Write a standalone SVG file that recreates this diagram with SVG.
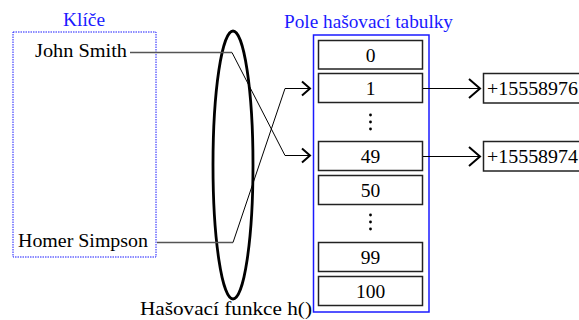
<svg xmlns="http://www.w3.org/2000/svg" width="579" height="320" viewBox="0 0 579 320" font-family="'Liberation Serif', 'DejaVu Serif', serif">
<style>
text{font-family:'Liberation Serif','Tinos','Times New Roman','DejaVu Serif',serif;font-size:19.5px;fill:#000}
.blue{fill:#1a1aff}
.cell{fill:#fff;stroke:#222;stroke-width:1.5}
.num{text-anchor:middle}
.conn{fill:none;stroke:#000;stroke-width:1}
.gray{fill:none;stroke:#555;stroke-width:1.5}
.head{fill:none;stroke:#000;stroke-width:2}
</style>
<rect width="579" height="320" fill="#fff"/>
<g id="keys">
<rect x="13" y="32" width="143" height="225" fill="none" stroke="#1a1aff" stroke-width="1" stroke-dasharray="1.5,1"/>
<text class="blue" x="63" y="26" textLength="42" lengthAdjust="spacingAndGlyphs">Klíče</text>
<text x="35" y="57" textLength="92" lengthAdjust="spacingAndGlyphs">John Smith</text>
<text x="18" y="247" textLength="130" lengthAdjust="spacingAndGlyphs">Homer Simpson</text>
</g>
<g id="hash">
<ellipse cx="233" cy="165" rx="20" ry="134" fill="none" stroke="#000" stroke-width="2.8"/>
<text x="140" y="315" textLength="172" lengthAdjust="spacingAndGlyphs">Hašovací funkce h()</text>
</g>
<g id="table">
<rect x="313.5" y="35" width="115.5" height="277" fill="none" stroke="#1a1aff" stroke-width="1.5"/>
<text class="blue" x="284" y="28" textLength="169" lengthAdjust="spacingAndGlyphs">Pole hašovací tabulky</text>
<rect class="cell" x="318.5" y="40.5" width="104" height="28.5"/><text class="num" x="370.5" y="62">0</text>
<rect class="cell" x="318.5" y="73.5" width="104" height="29"/><text class="num" x="370.5" y="95">1</text>
<g fill="#000"><circle cx="370.5" cy="115" r="1.4"/><circle cx="370.5" cy="122" r="1.4"/><circle cx="370.5" cy="129" r="1.4"/></g>
<rect class="cell" x="318.5" y="141.5" width="104" height="29"/><text class="num" x="370.5" y="163">49</text>
<rect class="cell" x="318.5" y="175.5" width="104" height="29"/><text class="num" x="370.5" y="197">50</text>
<g fill="#000"><circle cx="370.5" cy="215" r="1.4"/><circle cx="370.5" cy="222" r="1.4"/><circle cx="370.5" cy="229" r="1.4"/></g>
<rect class="cell" x="318.5" y="242.5" width="104" height="29"/><text class="num" x="370.5" y="264">99</text>
<rect class="cell" x="318.5" y="276.5" width="104" height="29"/><text class="num" x="370.5" y="298">100</text>
</g>
<g id="values">
<rect x="483.5" y="73.5" width="97" height="29.5" fill="#fff" stroke="#222" stroke-width="1.5"/>
<text x="487" y="95" textLength="91" lengthAdjust="spacingAndGlyphs">+15558976</text>
<rect x="483.5" y="141.5" width="97" height="29.5" fill="#fff" stroke="#222" stroke-width="1.5"/>
<text x="487" y="163" textLength="91" lengthAdjust="spacingAndGlyphs">+15558974</text>
</g>
<g id="connectors">
<path class="gray" d="M130 52.5H232"/>
<path class="conn" d="M232 52.5L285 155.5H310"/>
<path class="head" d="M302 148.5L310 155.5L302 162.5"/>
<path class="gray" d="M157 242.5H233"/>
<path class="conn" d="M233 242.5L285 88.5H310"/>
<path class="head" d="M302 81.5L310 88.5L302 95.5"/>
<path class="conn" d="M423 88.5H480"/>
<path class="head" d="M469 79L480 88.5L469 98"/>
<path class="conn" d="M423 156.5H480"/>
<path class="head" d="M469 147L480 156.5L469 166"/>
</g>
</svg>
